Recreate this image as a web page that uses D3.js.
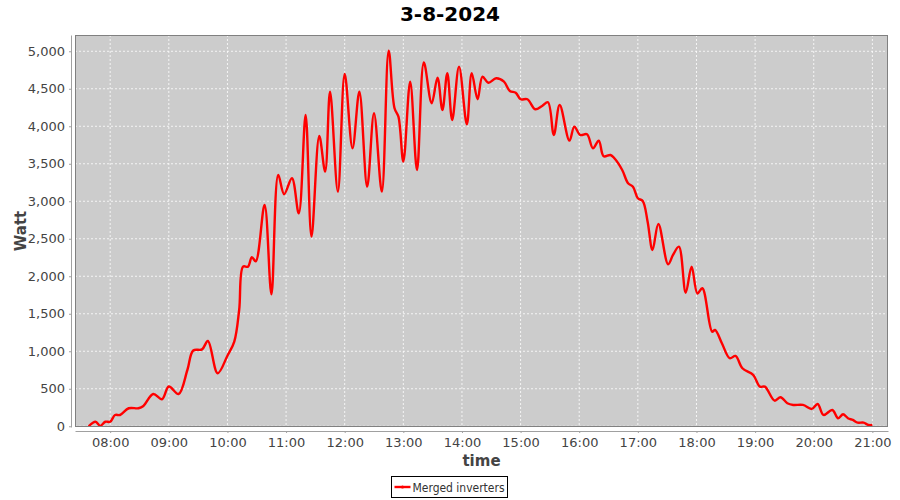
<!DOCTYPE html>
<html>
<head>
<meta charset="utf-8">
<script src="https://cdn.jsdelivr.net/npm/d3@7"></script>
<style>
  body { margin: 0; background: #fff; }
  text { font-family: "DejaVu Sans", sans-serif; }
</style>
</head>
<body>
<svg id="chart"></svg>
<script>
// readings of the "Merged inverters" series, time of day and watt
var times = [
  "07:38","07:45","07:50","07:55","08:00","08:05","08:10","08:19","08:29","08:34",
  "08:44","08:53","09:00","09:10","09:19","09:25","09:34","09:40","09:50","10:00",
  "10:07","10:12","10:16","10:21","10:25","10:29","10:38","10:45","10:52","10:58",
  "11:06","11:13","11:20","11:26","11:34","11:40","11:45","11:53","12:00","12:08",
  "12:15","12:23","12:30","12:38","12:45","12:51","12:55","13:00","13:07","13:14",
  "13:21","13:29","13:35","13:40","13:45","13:50","13:57","14:05","14:10","14:16",
  "14:21","14:27","14:35","14:43","14:49","14:55","15:00","15:07","15:15","15:22",
  "15:28","15:34","15:40","15:50","15:55","16:01","16:08","16:14","16:20","16:25",
  "16:32","16:36","16:44","16:50","16:55","17:00","17:05","17:10","17:15","17:21",
  "17:31","17:36","17:42","17:49","17:55","18:01","18:06","18:16","18:19","18:26",
  "18:34","18:40","18:47","18:58","19:05","19:10","19:20","19:26","19:33","19:39",
  "19:49","19:58","20:04","20:10","20:19","20:25","20:30","20:35","20:40","20:45",
  "20:51","20:56","21:00"
];
var watts = [
  0,60,5,60,60,150,150,240,240,270,
  430,360,530,430,750,1010,1025,1137,707,940,
  1128,1550,2128,2128,2253,2200,2950,1760,3350,3093,
  3307,2840,4150,2528,3870,3395,4461,3128,4697,3707,
  4461,3195,4173,3128,5008,4240,4128,3528,4595,3417,
  4850,4307,4648,4217,4707,4084,4795,4027,4707,4360,
  4661,4581,4640,4595,4471,4448,4360,4360,4227,4271,
  4320,3884,4284,3808,3995,3884,3893,3707,3808,3600,
  3617,3573,3417,3240,3195,3040,3004,2728,2351,2697,
  2160,2284,2395,1781,2128,1770,1840,1261,1284,1107,
  907,937,773,684,528,528,341,387,307,284,
  284,231,297,151,217,107,160,107,84,48,
  48,17,17
];
var hourTicks = ["08:00","09:00","10:00","11:00","12:00","13:00","14:00",
  "15:00","16:00","17:00","18:00","19:00","20:00","21:00"];
var wattTicks = [0,500,1000,1500,2000,2500,3000,3500,4000,4500,5000];

var day = "2024-08-03";
var parseTime = d3.timeParse("%Y-%m-%d %H:%M");
var data = times.map(function(t, i) {
  return { time: parseTime(day + " " + t), watt: watts[i] };
});

var svg = d3.select("#chart").attr("width", 900).attr("height", 500);
var margin = { left: 75, top: 35, right: 12, bottom: 73 };
var width = 900 - margin.left - margin.right,
  height = 500 - margin.top - margin.bottom;

var xScale = d3.scaleTime()
  .domain([parseTime(day + " 07:24"), parseTime(day + " 21:16")])
  .range([0, width]);
var yScale = d3.scaleLinear().domain([-10, 5217]).range([height, 0]);

var g = svg.append("g")
  .attr("transform", "translate(" + margin.left + "," + margin.top + ")");

// plot background
g.append("rect")
  .attr("width", width)
  .attr("height", height)
  .attr("fill", "#cccccc");

// grid lines
g.selectAll(".vgrid")
  .data(hourTicks)
  .enter()
  .append("line")
  .attr("x1", function(d) { return xScale(parseTime(day + " " + d)); })
  .attr("x2", function(d) { return xScale(parseTime(day + " " + d)); })
  .attr("y1", 0)
  .attr("y2", height)
  .attr("stroke", "#ffffff")
  .attr("stroke-width", 0.8)
  .attr("stroke-dasharray", "2,2");

g.selectAll(".hgrid")
  .data(wattTicks)
  .enter()
  .append("line")
  .attr("x1", 0)
  .attr("x2", width)
  .attr("y1", function(d) { return yScale(d); })
  .attr("y2", function(d) { return yScale(d); })
  .attr("stroke", "#ffffff")
  .attr("stroke-width", 0.8)
  .attr("stroke-dasharray", "2,2");

// the line
var line = d3.line()
  .x(function(d) { return xScale(d.time); })
  .y(function(d) { return yScale(d.watt); })
  .curve(d3.curveCatmullRom.alpha(0.5));

g.append("path")
  .datum(data)
  .attr("fill", "none")
  .attr("stroke", "#ff0000")
  .attr("stroke-width", 2.4)
  .attr("stroke-linejoin", "round")
  .attr("d", line);

// plot outline
g.append("rect")
  .attr("x", 0.5)
  .attr("y", 0.5)
  .attr("width", width - 1)
  .attr("height", height - 1)
  .attr("fill", "none")
  .attr("stroke", "#808080");

// x axis
var xAxis = g.append("g")
  .attr("transform", "translate(0," + (height + 4) + ")")
  .call(d3.axisBottom(xScale)
    .tickValues(hourTicks.map(function(d) { return parseTime(day + " " + d); }))
    .tickFormat(d3.timeFormat("%H:%M"))
    .tickSizeInner(2)
    .tickSizeOuter(0)
    .tickPadding(5));

// y axis
var yAxis = g.append("g")
  .attr("transform", "translate(-4,0)")
  .call(d3.axisLeft(yScale)
    .tickValues(wattTicks)
    .tickFormat(d3.format(","))
    .tickSizeInner(2)
    .tickSizeOuter(0)
    .tickPadding(4));

[xAxis, yAxis].forEach(function(ax) {
  ax.select(".domain").attr("stroke", "#a0a0a0");
  ax.selectAll(".tick line").attr("stroke", "#a0a0a0");
  ax.selectAll(".tick text")
    .attr("fill", "#444444")
    .style("font-size", "13px")
    .style("font-family", "DejaVu Sans, sans-serif");
});

// title
svg.append("text")
  .attr("x", 450)
  .attr("y", 21)
  .attr("text-anchor", "middle")
  .style("font-size", "20px")
  .style("font-weight", "bold")
  .attr("fill", "#000000")
  .text("3-8-2024");

// axis labels
svg.append("text")
  .attr("x", margin.left + width / 2)
  .attr("y", 466)
  .attr("text-anchor", "middle")
  .style("font-size", "15px")
  .style("font-weight", "bold")
  .attr("fill", "#444444")
  .text("time");

svg.append("text")
  .attr("transform", "translate(26," + (margin.top + height / 2) + ") rotate(-90)")
  .attr("text-anchor", "middle")
  .style("font-size", "15px")
  .style("font-weight", "bold")
  .attr("fill", "#444444")
  .text("Watt");

// legend
var legend = svg.append("g").attr("transform", "translate(391.5,476.5)");
legend.append("rect")
  .attr("width", 116)
  .attr("height", 21)
  .attr("fill", "#ffffff")
  .attr("stroke", "#000000");
legend.append("line")
  .attr("x1", 3).attr("x2", 19)
  .attr("y1", 10.5).attr("y2", 10.5)
  .attr("stroke", "#ff0000")
  .attr("stroke-width", 2.4);
legend.append("circle")
  .attr("cx", 11).attr("cy", 10.5)
  .attr("r", 1.6)
  .attr("fill", "#ff0000");
legend.append("text")
  .attr("x", 21)
  .attr("y", 15)
  .attr("textLength", 92)
  .attr("lengthAdjust", "spacingAndGlyphs")
  .style("font-size", "12px")
  .attr("fill", "#333333")
  .text("Merged inverters");
</script>
</body>
</html>
